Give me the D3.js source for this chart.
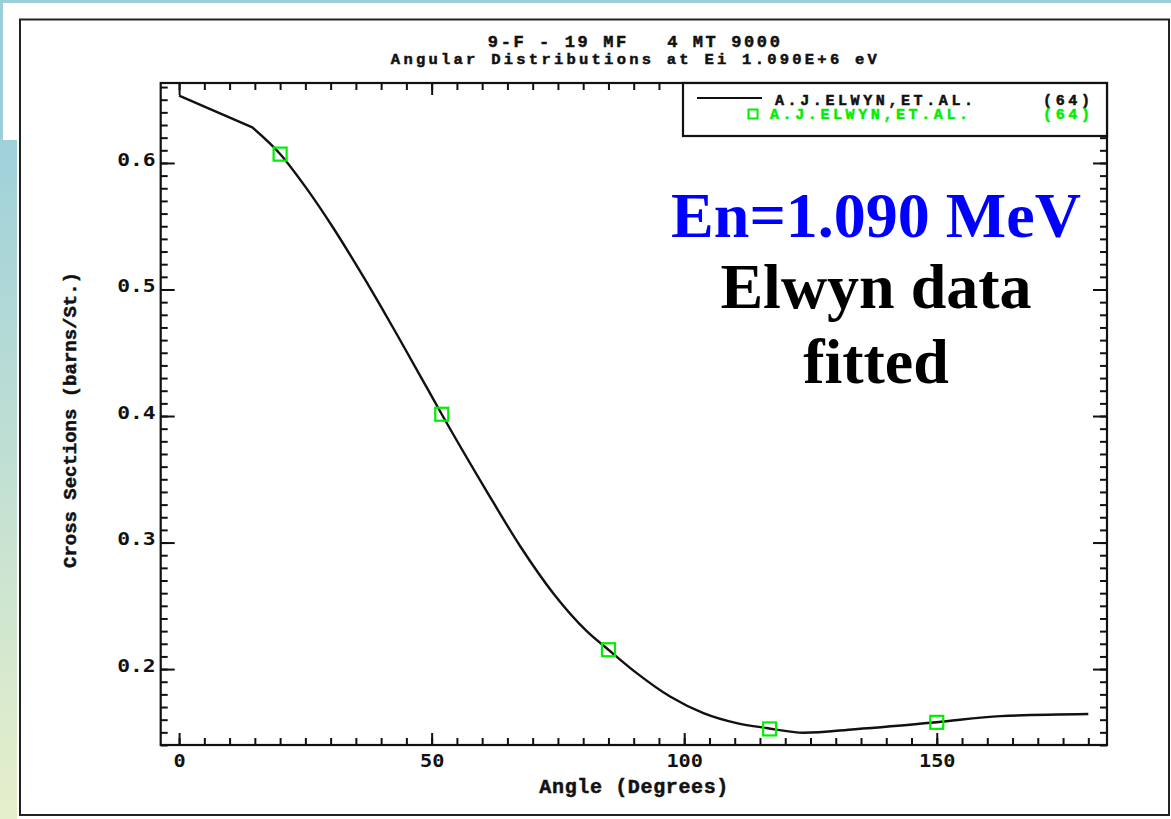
<!DOCTYPE html>
<html>
<head>
<meta charset="utf-8">
<script src="https://cdn.jsdelivr.net/npm/d3@7"></script>
<style>
  body { margin: 0; background: #ffffff; }
  svg { display: block; }
</style>
</head>
<body>
<script>
// angular distribution, 19F elastic, Elwyn data at 1.090 MeV

// fitted curve (degrees, barns/st)
// the first two points are joined by a straight line, the rest is smooth
var curveAngles = [0, 14.5, 20, 25.3, 30.5, 34.5, 39.8, 43.8, 49, 52, 60.9, 67.5, 74.1, 80.7, 85, 90.6, 97.2, 103.8, 110.4, 116.3, 123.7, 133.8, 150, 162.6, 180];
var curveValues = [0.6532, 0.6281, 0.6071, 0.5795, 0.5488, 0.5232, 0.4877, 0.4597, 0.4228, 0.4014, 0.3405, 0.2973, 0.2598, 0.2300, 0.2153, 0.1968, 0.1783, 0.1652, 0.1573, 0.1534, 0.1497, 0.1525, 0.1580, 0.1628, 0.1645];

// measured points
var dataAngles = [20, 52, 85, 116.9, 150];
var dataValues = [0.607, 0.4014, 0.2153, 0.1527, 0.1579];

// axis ticks
var xTicks = [0, 50, 100, 150];
var yTicks = [0.2, 0.3, 0.4, 0.5, 0.6];
var xMinor = d3.range(0, 185, 5);
var yMinor = d3.range(14, 67).map(function(d) { return d / 100; });

// texts
var titleLines = ["9-F - 19 MF   4 MT 9000", "Angular Distributions at Ei 1.090E+6 eV"];
var legendNames = ["A.J.ELWYN,ET.AL.", "A.J.ELWYN,ET.AL."];
var legendRefs = ["(64)", "(64)"];
var noteLines = ["En=1.090 MeV", "Elwyn data", "fitted"];

window.onload = function() {
  var width = 1171,
      height = 819;
  var plot = {left: 160.7, top: 83, right: 1107, bottom: 745};
  var green = "#00ee00";
  var ink = "#111";

  var svg = d3.select("body")
    .append("svg")
    .attr("width", width)
    .attr("height", height);

  // page decoration: teal strip at top, gradient strip on the left
  var grad = svg.append("defs")
    .append("linearGradient")
    .attr("id", "side")
    .attr("x1", 0).attr("y1", 0).attr("x2", 0).attr("y2", 1);
  grad.append("stop").attr("offset", "0%").attr("stop-color", "#9fd1da");
  grad.append("stop").attr("offset", "100%").attr("stop-color", "#e6efcb");

  svg.append("rect").attr("x", 0).attr("y", 0).attr("width", width).attr("height", 3)
    .style("fill", "#9ccfd9");
  svg.append("rect").attr("x", 0).attr("y", 0).attr("width", 3).attr("height", 140)
    .style("fill", "#9ccfd9");
  svg.append("rect").attr("x", 0).attr("y", 140).attr("width", 17).attr("height", height - 140)
    .style("fill", "url(#side)");

  // outer frame
  svg.append("rect")
    .attr("x", 20).attr("y", 19.5)
    .attr("width", 1149).attr("height", 795.5)
    .style("fill", "none")
    .style("stroke", "#222")
    .style("stroke-width", 2);

  // scales
  var x = d3.scaleLinear().domain([-3.64, 183.7]).range([plot.left, plot.right]);
  var y = d3.scaleLinear().domain([0.14, 0.6632]).range([plot.bottom, plot.top]);

  // ticks point inward on all four sides
  function tickAxis(axis, pos, values, len, format) {
    var g = svg.append("g")
      .attr("transform", pos)
      .call(axis.tickValues(values).tickSizeInner(-len).tickSizeOuter(0)
        .tickFormat(format || ""));
    g.select(".domain").remove();
    g.selectAll(".tick line").style("stroke", ink).style("stroke-width", 2);
    return g;
  }

  tickAxis(d3.axisBottom(x), "translate(0," + plot.bottom + ")", xMinor, 7);
  tickAxis(d3.axisTop(x), "translate(0," + plot.top + ")", xMinor, 7);
  tickAxis(d3.axisLeft(y), "translate(" + plot.left + ",0)", yMinor, 7);
  tickAxis(d3.axisRight(y), "translate(" + plot.right + ",0)", yMinor, 7);
  tickAxis(d3.axisTop(x), "translate(0," + plot.top + ")", xTicks, 12);
  tickAxis(d3.axisRight(y), "translate(" + plot.right + ",0)", yTicks, 14);

  var xAxis = tickAxis(d3.axisBottom(x).tickPadding(9), "translate(0," + plot.bottom + ")",
    xTicks, 12, d3.format("d"));
  xAxis.selectAll("text")
    .style("font-family", "'DejaVu Sans Mono'")
    .style("font-weight", "bold")
    .style("font-size", "18px")
    .style("fill", ink)
    .attr("textLength", function(d) { return String(d).length * 12.2; })
    .attr("lengthAdjust", "spacingAndGlyphs");

  var yAxis = tickAxis(d3.axisLeft(y).tickPadding(5), "translate(" + plot.left + ",0)",
    yTicks, 14, d3.format(".1f"));
  yAxis.selectAll("text")
    .attr("dy", "0.12em")
    .style("font-family", "'DejaVu Sans Mono'")
    .style("font-weight", "bold")
    .style("font-size", "18px")
    .style("fill", ink)
    .attr("textLength", 38.5)
    .attr("lengthAdjust", "spacingAndGlyphs");

  // plot frame
  svg.append("rect")
    .attr("x", plot.left).attr("y", plot.top)
    .attr("width", plot.right - plot.left)
    .attr("height", plot.bottom - plot.top)
    .style("fill", "none")
    .style("stroke", ink)
    .style("stroke-width", 2.2);

  // fitted curve: straight start, then a smooth line
  var pts = d3.zip(curveAngles, curveValues);
  var straight = d3.line()
    .x(function(d) { return x(d[0]); })
    .y(function(d) { return y(d[1]); });
  var smooth = d3.line()
    .x(function(d) { return x(d[0]); })
    .y(function(d) { return y(d[1]); })
    .curve(d3.curveMonotoneX);

  svg.append("path")
    .attr("d", straight(pts.slice(0, 2)) + smooth(pts.slice(1)).replace(/^M/, "L"))
    .style("fill", "none")
    .style("stroke", ink)
    .style("stroke-width", 2.4)
    .style("stroke-linejoin", "round");

  // data points as open squares
  svg.selectAll(".pt")
    .data(d3.zip(dataAngles, dataValues))
    .enter()
    .append("rect")
    .attr("class", "pt")
    .attr("x", function(d) { return x(d[0]) - 6.5; })
    .attr("y", function(d) { return y(d[1]) - 6.5; })
    .attr("width", 13)
    .attr("height", 13)
    .style("fill", "none")
    .style("stroke", green)
    .style("stroke-width", 2.2);

  // plotter-style text: mono bold, a little thickened
  function plotText(sel, size, color) {
    sel.style("font-family", "'Liberation Mono'")
      .style("font-weight", "bold")
      .style("font-size", size + "px")
      .style("fill", color)
      .style("stroke", color)
      .style("stroke-width", 0.5)
      .attr("lengthAdjust", "spacing");
  }

  // title
  svg.selectAll(".title")
    .data(titleLines)
    .enter()
    .append("text")
    .attr("class", "title")
    .attr("x", (plot.left + plot.right) / 2)
    .attr("y", function(d, i) { return i == 0 ? 46.5 : 64; })
    .attr("text-anchor", "middle")
    .attr("textLength", function(d, i) { return i == 0 ? 292 : 486; })
    .style("white-space", "pre")
    .text(function(d) { return d; })
    .each(function(d, i) { plotText(d3.select(this), i == 0 ? 17 : 15.5, ink); });

  // axis titles
  svg.append("text")
    .attr("x", (plot.left + plot.right) / 2)
    .attr("y", 793)
    .attr("text-anchor", "middle")
    .attr("textLength", 189)
    .text("Angle (Degrees)")
    .call(plotText, 20, ink);

  svg.append("text")
    .attr("transform", "translate(76,420)rotate(-90)")
    .attr("text-anchor", "middle")
    .attr("textLength", 296)
    .text("Cross Sections (barns/St.)")
    .call(plotText, 19, ink);

  // legend
  var legend = svg.append("g").attr("class", "legend");
  legend.append("rect")
    .attr("x", 683).attr("y", plot.top)
    .attr("width", plot.right - 683).attr("height", 53)
    .style("fill", "#fff")
    .style("stroke", ink)
    .style("stroke-width", 2.2);

  legend.append("line")
    .attr("x1", 697).attr("x2", 762)
    .attr("y1", 98).attr("y2", 98)
    .style("stroke", ink)
    .style("stroke-width", 2);

  legend.append("rect")
    .attr("x", 748.5).attr("y", 109.5)
    .attr("width", 9).attr("height", 9)
    .style("fill", "none")
    .style("stroke", green)
    .style("stroke-width", 2);

  legend.selectAll(".lname")
    .data(legendNames)
    .enter()
    .append("text")
    .attr("class", "lname")
    .attr("x", function(d, i) { return i == 0 ? 775 : 770; })
    .attr("y", function(d, i) { return 104.5 + i * 14.8; })
    .attr("textLength", 198)
    .text(function(d) { return d; })
    .each(function(d, i) { plotText(d3.select(this), 15, i == 0 ? ink : green); });

  legend.selectAll(".lref")
    .data(legendRefs)
    .enter()
    .append("text")
    .attr("class", "lref")
    .attr("x", 1090)
    .attr("y", function(d, i) { return 104.5 + i * 14.8; })
    .attr("text-anchor", "end")
    .attr("textLength", 47)
    .text(function(d) { return d; })
    .each(function(d, i) { plotText(d3.select(this), 15, i == 0 ? ink : green); });

  // big annotation
  svg.selectAll(".note")
    .data(noteLines)
    .enter()
    .append("text")
    .attr("class", "note")
    .attr("x", 876)
    .attr("y", function(d, i) { return [236.7, 308.3, 383.3][i]; })
    .attr("text-anchor", "middle")
    .style("font-family", "'Liberation Serif'")
    .style("font-weight", "bold")
    .style("font-size", "64px")
    .style("fill", function(d, i) { return i == 0 ? "#0000ff" : "#000"; })
    .text(function(d) { return d; });
};
</script>
</body>
</html>
